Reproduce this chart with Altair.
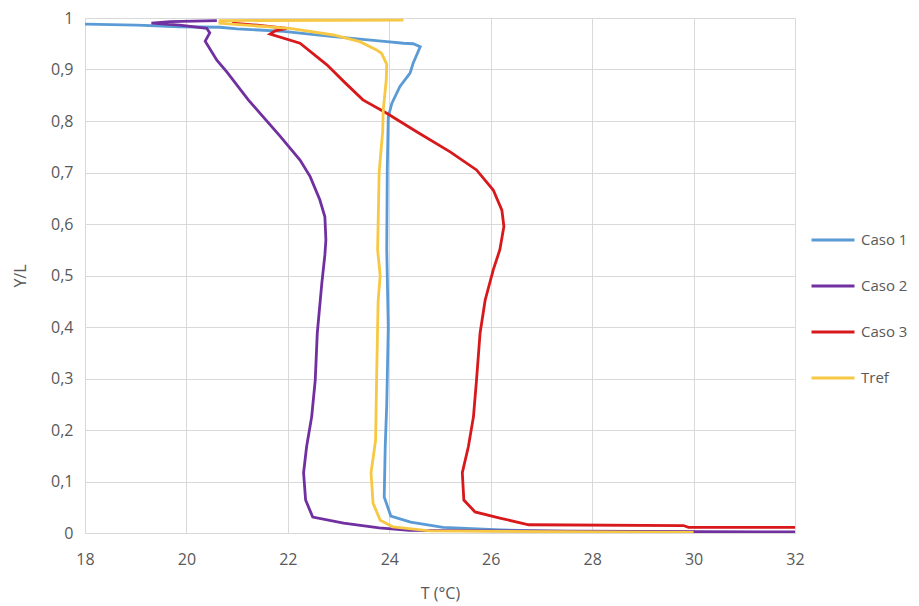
import altair as alt
import pandas as pd

# Temperature profiles T (°C) against dimensionless height Y/L, listed from the floor up
caso1_t = [30.0, 27.5, 26.2, 25.06, 24.42, 24.03, 23.9, 23.92, 23.95, 23.98, 23.95, 23.96,
           23.98, 24.05, 24.21, 24.41, 24.47, 24.61, 24.47, 24.28, 23.95, 22.9, 21.91,
           21.0, 20.66, 19.87, 19.02, 18.0]
caso1_y = [0.001, 0.003, 0.006, 0.011, 0.021, 0.033, 0.07, 0.168, 0.25, 0.4, 0.55, 0.705,
           0.808, 0.834, 0.867, 0.893, 0.912, 0.944, 0.950, 0.951, 0.954, 0.964, 0.974,
           0.979, 0.982, 0.983, 0.986, 0.988]

caso2_t = [32.0, 24.4, 23.8, 23.1, 22.49, 22.35, 22.31, 22.37, 22.47, 22.54, 22.58, 22.67,
           22.73, 22.75, 22.73, 22.63, 22.44, 22.24, 21.85, 21.22, 20.8, 20.6, 20.37,
           20.46, 20.4, 19.87, 19.31, 19.68, 20.6]
caso2_y = [0.002, 0.005, 0.01, 0.019, 0.031, 0.064, 0.117, 0.168, 0.226, 0.297, 0.388, 0.485,
           0.54, 0.569, 0.614, 0.647, 0.692, 0.724, 0.77, 0.841, 0.895, 0.918, 0.955,
           0.971, 0.98, 0.986, 0.99, 0.993, 0.995]

caso3_t = [32.0, 29.9, 29.8, 26.75, 26.18, 25.69, 25.47, 25.44, 25.56, 25.66, 25.72, 25.79,
           25.89, 26.05, 26.18, 26.26, 26.22, 26.05, 25.72, 25.2, 24.54, 23.95, 23.48,
           23.12, 22.77, 22.24, 21.65, 21.75, 21.98, 21.4, 20.9]
caso3_y = [0.011, 0.011, 0.0145, 0.016, 0.029, 0.041, 0.064, 0.117, 0.168, 0.226, 0.297, 0.388,
           0.452, 0.511, 0.55, 0.595, 0.627, 0.666, 0.705, 0.74, 0.779, 0.815, 0.841,
           0.875, 0.909, 0.951, 0.969, 0.975, 0.98, 0.986, 0.99]

tref_t = [30.0, 24.8, 24.07, 23.82, 23.68, 23.64, 23.73, 23.75, 23.78, 23.82, 23.77, 23.8,
          23.87, 23.88, 23.94, 23.95, 23.85, 23.75, 23.42, 22.9, 22.04, 20.9, 20.66,
          20.66, 24.28]
tref_y = [0.001, 0.004, 0.012, 0.025, 0.058, 0.117, 0.18, 0.3, 0.45, 0.5, 0.55, 0.7,
          0.78, 0.82, 0.88, 0.91, 0.931, 0.938, 0.954, 0.967, 0.98, 0.988, 0.99,
          0.995, 0.996]

series_names = ["Caso 1", "Caso 2", "Caso 3", "Tref"]
series_colors = ["#5B9BD5", "#7030A0", "#D7191C", "#F7C843"]
x_ticks = [18, 20, 22, 24, 26, 28, 30, 32]
y_ticks = [0, 0.1, 0.2, 0.3, 0.4, 0.5, 0.6, 0.7, 0.8, 0.9, 1]

rows = []
for name, ts, ys in zip(series_names,
                        [caso1_t, caso2_t, caso3_t, tref_t],
                        [caso1_y, caso2_y, caso3_y, tref_y]):
    for i, (t, y) in enumerate(zip(ts, ys)):
        rows.append({"serie": name, "T": t, "Y": y, "i": i})
df = pd.DataFrame(rows)

font = "Open Sans"
label_color = "#595959"

chart = alt.Chart(df).mark_line(strokeWidth=2.8, clip=True).encode(
    x=alt.X("T:Q", title="T (°C)",
            scale=alt.Scale(domain=[18, 32], nice=False, zero=False),
            axis=alt.Axis(values=x_ticks, labelPadding=18, titlePadding=18,
                          labelFlush=False,
                          domain=True, domainColor="#D9D9D9", domainWidth=1)),
    y=alt.Y("Y:Q", title="Y/L",
            scale=alt.Scale(domain=[0, 1], nice=False),
            axis=alt.Axis(values=y_ticks, labelPadding=12, titlePadding=22,
                          labelFlush=False,
                          labelExpr="replace(format(datum.value, '~g'), '.', ',')")),
    color=alt.Color("serie:N", title=None,
                    scale=alt.Scale(domain=series_names, range=series_colors),
                    legend=alt.Legend(orient="none", legendX=725, legendY=199,
                                      symbolType="stroke", symbolSize=1849,
                                      symbolStrokeWidth=3, rowPadding=15,
                                      labelFontSize=15, labelFont=font,
                                      labelColor=label_color, labelOffset=5)),
    order=alt.Order("i:Q"),
).properties(
    width=710, height=515,
    background="white",
    autosize=alt.AutoSizeParams(type="none"),
    padding={"left": 85, "top": 18, "right": 124, "bottom": 73},
).configure_axis(
    grid=True, gridColor="#D9D9D9", gridWidth=1,
    domain=False, ticks=False,
    labelFont=font, labelFontSize=16, labelColor=label_color,
    titleFont=font, titleFontSize=16, titleColor=label_color, titleFontWeight="normal",
).configure_view(
    stroke=None,
)

chart.save("out.html", embed_options={"renderer": "svg", "actions": False})
